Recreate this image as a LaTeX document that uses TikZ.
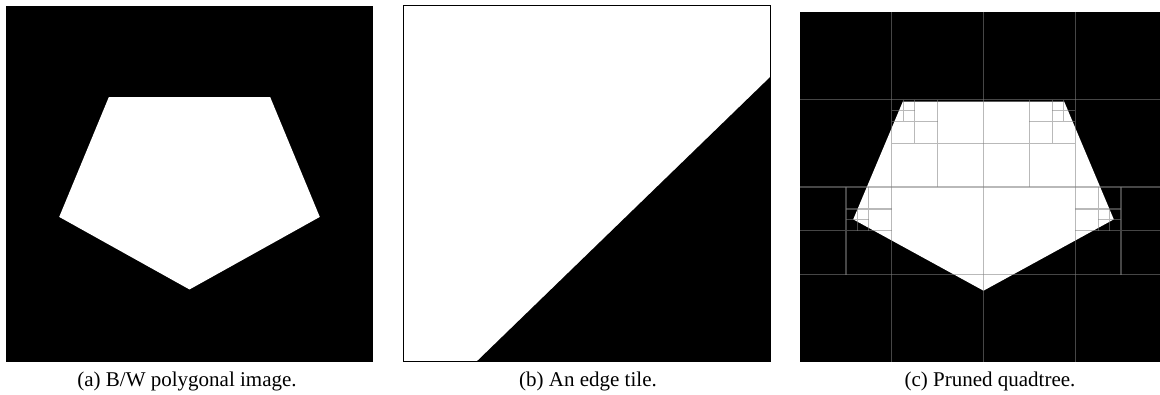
\documentclass[tikz,border=0pt]{standalone}
\usepackage{fontspec}
\setmainfont{Liberation Serif}
\usepackage{tikz}
\usetikzlibrary{positioning}
\tikzset{
	panelbg/.style ={fill=black},
	polyfill/.style={fill=white},
	qline/.style   ={draw=gray, opacity=0.55, line width=1.3pt},
	tileframe/.style={draw=black, line width=1.5pt},
	capt/.style    ={anchor=base, inner sep=0pt, font=\fontsize{21}{25}\selectfont},
}
\begin{document}
\begin{tikzpicture}[x=1pt, y=-1pt]
	\useasboundingbox (0,0) rectangle (1160,394);
	% (a) polygon image
	\begin{scope}[shift={(6pt,-6pt)}, x=91.75pt, y=-89pt]
		\fill[panelbg] (0,0) rectangle (4,4);
		\fill[polyfill] (1.12,1.025) -- (2.88,1.025) -- (3.42,2.37) -- (2,3.185) -- (0.58,2.37) -- cycle;
	\end{scope}
	% (b) edge tile
	\fill[panelbg] (476.7,361.5) -- (770.5,361.5) -- (770.5,76.7) -- cycle;
	\draw[tileframe] (403.5,5.5) rectangle (770.5,361.5);
	% (c) quadtree
	\begin{scope}[shift={(800pt,-12pt)}, x=91.75pt, y=-87.5pt]
		\fill[panelbg] (0,0) rectangle (4,4);
		\fill[polyfill] (1.12,1.025) -- (2.88,1.025) -- (3.42,2.37) -- (2,3.185) -- (0.58,2.37) -- cycle;
		\foreach \i in {1,2,3} {
			\draw[qline] (\i,0) -- (\i,4);
			\draw[qline] (0,\i) -- (4,\i);
		}
		% top corners
		\draw[qline] (1.5,1) -- (1.5,2) (1,1.5) -- (2,1.5);
		\draw[qline] (1.25,1) -- (1.25,1.5) (1,1.25) -- (1.5,1.25);
		\draw[qline] (1.125,1) -- (1.125,1.25) (1,1.125) -- (1.25,1.125);
		\draw[qline] (2.5,1) -- (2.5,2) (2,1.5) -- (3,1.5);
		\draw[qline] (2.75,1) -- (2.75,1.5) (2.5,1.25) -- (3,1.25);
		\draw[qline] (2.875,1) -- (2.875,1.25) (2.75,1.125) -- (3,1.125);
		% side corners
		\draw[qline] (0.5,2) -- (0.5,3) (0,2.5) -- (1,2.5);
		\draw[qline] (0.75,2) -- (0.75,2.5) (0.5,2.25) -- (1,2.25);
		\draw[qline] (0.625,2.25) -- (0.625,2.5) (0.5,2.375) -- (0.75,2.375);
		\draw[qline] (3.5,2) -- (3.5,3) (3,2.5) -- (4,2.5);
		\draw[qline] (3.25,2) -- (3.25,2.5) (3,2.25) -- (3.5,2.25);
		\draw[qline] (3.375,2.25) -- (3.375,2.5) (3.25,2.375) -- (3.5,2.375);
	\end{scope}
	\node[capt] (capa) at (187,386) {(a) B/W polygonal image.};
	\node[capt] (capb) at (588,386) {(b) An edge tile.};
	\node[capt] (capc) at (990,386) {(c) Pruned quadtree.};
\end{tikzpicture}
\end{document}
